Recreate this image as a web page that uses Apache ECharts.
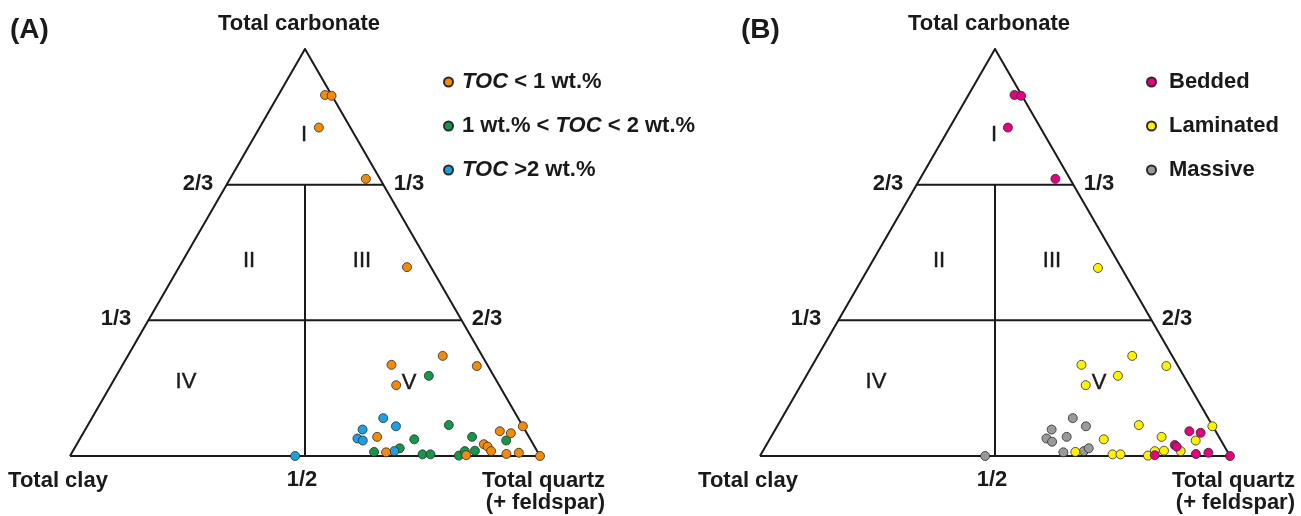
<!DOCTYPE html>
<html>
<head>
<meta charset="utf-8">
<script src="https://cdn.jsdelivr.net/npm/echarts@6/dist/echarts.min.js"></script>
<style>
  html, body { margin: 0; padding: 0; background: #fff; }
  #main { width: 1301px; height: 516px; }
</style>
</head>
<body>
<div id="main"></div>
<script>
// samples as [quartz %, carbonate %] (clay = the rest)
var tocLow = [[57.2,22.4],[67.0,24.6],[75.5,22.1],[60.7,17.4],[63.0,4.7],[66.8,0.9],[88.4,6.1],[91.0,5.6],[92.7,7.3],
  [86.6,2.9],[87.7,2.3],[89.0,1.2],[84.2,0.2],[92.6,0.5],[95.1,0.8],[100,0],[9.9,88.7],[11.4,88.5],[12.6,80.7],[28.9,68.1],[48.5,46.4]];
var tocMid = [[66.5,19.7],[76.8,7.6],[71.2,4.1],[69.2,1.9],[64.2,1.0],[74.8,0.4],[76.5,0.4],[82.7,0.1],[83.4,1.2],[85.5,1.3],[83.2,4.7],[90.9,3.8]];
var tocHigh = [[62.0,9.3],[65.7,7.3],[59.0,6.5],[59.0,4.3],[60.4,3.8],[68.4,1.2],[47.9,0]];

var bedded = [[88.3,6.1],[90.9,5.7],[86.9,2.7],[87.5,2.3],[83.9,0.2],[92.5,0.5],[95.0,0.8],[100,0],[9.8,88.7],[11.3,88.5],[12.4,80.7],[28.8,68.1]];
var laminated = [[57.2,22.4],[66.9,24.6],[75.4,22.1],[66.3,19.7],[60.6,17.4],[76.8,7.6],[71.1,4.1],[66.6,1.0],[74.8,0.4],[76.5,0.4],
  [82.5,0.1],[83.4,1.2],[85.3,1.3],[83.1,4.7],[90.8,3.8],[88.9,1.2],[92.6,7.3],[48.8,46.2]];
var massive = [[61.9,9.3],[65.7,7.3],[58.8,6.5],[58.8,4.3],[60.4,3.5],[62.9,4.7],[64.1,0.9],[68.3,1.2],[69.0,1.9],[47.9,0]];

var namesA = ['TOC < 1 wt.%', '1 wt.% < TOC < 2 wt.%', 'TOC >2 wt.%'];
var namesB = ['Bedded', 'Laminated', 'Massive'];
var regions = ['I', 'II', 'III', 'IV', 'V'];

// ternary -> plane: x along base (clay 0 .. quartz 100), y = carbonate
function toXY(arr) {
  return arr.map(function (p) { return [p[0] + p[1] / 2, p[1]]; });
}

var t = 100 / 3;
var frame = [
  { coords: [[0, 0], [50, 100], [100, 0], [0, 0]] },
  { coords: [[t, t * 2], [100 - t, t * 2]] },
  { coords: [[t / 2, t], [100 - t / 2, t]] },
  { coords: [[50, 0], [50, t * 2]] }
];

var FONT = 'Liberation Sans, Arial, sans-serif';
var ink = '#1a1a1a';

function frameSeries(idx) {
  return {
    type: 'lines', coordinateSystem: 'cartesian2d', xAxisIndex: idx, yAxisIndex: idx,
    polyline: true, silent: true, z: 1,
    lineStyle: { color: ink, width: 2, opacity: 1 },
    data: frame
  };
}
function dots(name, idx, arr, color) {
  return {
    name: name, type: 'scatter', xAxisIndex: idx, yAxisIndex: idx, z: 5,
    symbol: 'circle', symbolSize: 9,
    itemStyle: { color: color, borderColor: '#2b2b2b', borderWidth: 0.8, opacity: 1 },
    data: toXY(arr)
  };
}

function texts(dx) {
  var bold = function (txt, x, y, align) {
    return { type: 'text', x: x + dx, y: y,
      style: { text: txt, font: 'bold 22px ' + FONT, fill: ink, align: align || 'center', verticalAlign: 'middle' } };
  };
  var reg = function (txt, x, y) {
    return { type: 'text', x: x + dx, y: y,
      style: { text: txt, font: '22px ' + FONT, fill: ink, align: 'center', verticalAlign: 'middle',
        stroke: ink, lineWidth: 0.4 } };
  };
  return [
    bold('Total carbonate', 299, 24),
    bold('2/3', 198, 184), bold('1/3', 409, 184),
    bold('1/3', 116, 319), bold('2/3', 487, 319),
    bold('Total clay', 58, 481), bold('1/2', 302, 480),
    bold('Total quartz', 605, 481, 'right'), bold('(+ feldspar)', 605, 503, 'right'),
    reg(regions[0], 304, 135), reg(regions[1], 249, 261), reg(regions[2], 362, 261),
    reg(regions[3], 186, 382), reg(regions[4], 409, 383)
  ];
}

var graphics = [
  { type: 'text', x: 10, y: 30, style: { text: '(A)', font: 'bold 28px ' + FONT, fill: ink, verticalAlign: 'middle' } },
  { type: 'text', x: 741, y: 30, style: { text: '(B)', font: 'bold 28px ' + FONT, fill: ink, verticalAlign: 'middle' } }
].concat(texts(0), texts(690));

var chart = echarts.init(document.getElementById('main'));
var legendBase = {
  orient: 'vertical', itemGap: 22, itemWidth: 9, itemHeight: 9, icon: 'circle',
  textStyle: { fontFamily: FONT, fontSize: 22, fontWeight: 'bold', color: ink, padding: [0, 0, 0, 4],
    rich: { it: { fontFamily: FONT, fontSize: 22, fontWeight: 'bold', fontStyle: 'italic', color: ink } } }
};
chart.setOption({
  animation: false,
  backgroundColor: '#fff',
  grid: [
    { left: 70, top: 49, width: 470, height: 407 },
    { left: 760, top: 49, width: 470, height: 407 }
  ],
  xAxis: [0, 1].map(function (i) { return { type: 'value', gridIndex: i, min: 0, max: 100, show: false }; }),
  yAxis: [0, 1].map(function (i) { return { type: 'value', gridIndex: i, min: 0, max: 100, show: false }; }),
  legend: [
    Object.assign({}, legendBase, { left: 438, top: 66, data: namesA,
      formatter: function (n) { return n.replace('TOC', '{it|TOC}'); } }),
    Object.assign({}, legendBase, { left: 1141, top: 66, data: namesB,
      textStyle: Object.assign({}, legendBase.textStyle, { padding: [0, 0, 0, 8] }) })
  ],
  graphic: graphics,
  series: [
    frameSeries(0), frameSeries(1),
    dots(namesA[1], 0, tocMid, '#15974a'),
    dots(namesA[2], 0, tocHigh, '#1f9fe0'),
    dots(namesA[0], 0, tocLow, '#f28a0c'),
    dots(namesB[2], 1, massive, '#9a9a9a'),
    dots(namesB[1], 1, laminated, '#fff200'),
    dots(namesB[0], 1, bedded, '#e4007f')
  ]
});
</script>
</body>
</html>
